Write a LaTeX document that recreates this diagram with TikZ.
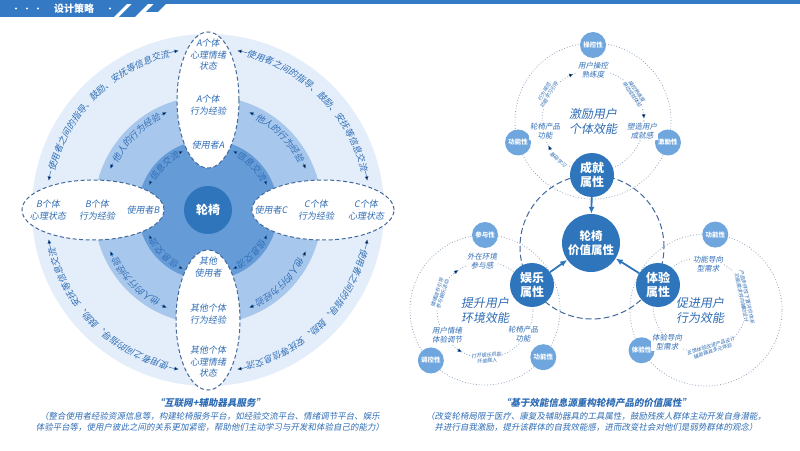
\documentclass[tikz,border=0pt]{standalone}
\usepackage{fontspec}
\usetikzlibrary{arrows.meta,shapes.geometric,decorations.text}
\newfontfamily\cjk{Noto Sans CJK SC}[FakeSlant=0.18]
\newfontfamily\cjkup{Noto Sans CJK SC}
\newcommand\fsz[1]{\fontsize{#1}{#1}\selectfont}
\definecolor{mainblue}{HTML}{2E75BC}
\definecolor{darkfill}{HTML}{659CD8}
\definecolor{midfill}{HTML}{A8C7EC}
\definecolor{lightfill}{HTML}{E4EEFA}
\definecolor{txtblue}{HTML}{2F6DB5}
\definecolor{edgeblue}{HTML}{42699C}
\definecolor{satblue}{HTML}{6FA6DE}
\definecolor{dotgray}{HTML}{8EA4C0}
\definecolor{barblue}{HTML}{3479C4}
\tikzset{
  petal/.style    = {ellipse, draw=edgeblue, dash pattern=on 4pt off 2.5pt, line width=1pt,
                     fill=white, inner sep=0pt},
  petaltext/.style= {text=txtblue, align=center, inner sep=0pt,
                     font=\cjk\fontsize{9}{11.5}\selectfont},
  hub/.style      = {circle, fill=mainblue, text=white, align=center, inner sep=0pt,
                     font=\cjkup\bfseries\fontsize{12}{14}\selectfont},
  sat/.style      = {circle, fill=satblue, text=white, minimum size=26pt, inner sep=0pt,
                     font=\cjkup\bfseries\fontsize{6.5}{7}\selectfont},
  ringlbl/.style  = {fill=white, inner sep=1pt, text=txtblue, align=center,
                     font=\cjk\fontsize{7.5}{9}\selectfont},
  tinylbl/.style  = {fill=white, inner sep=0.5pt, text=txtblue, align=center,
                     font=\cjk\fontsize{5}{5.5}\selectfont},
  core/.style     = {text=txtblue, align=center, font=\cjk\fontsize{12}{15}\selectfont},
  link/.style     = {-{Latex[length=7pt,width=6pt]}, line width=1.8pt, draw=mainblue},
  dotring/.style  = {draw=dotgray, dotted, line width=0.8pt},
  bigdash/.style  = {draw=edgeblue, dash pattern=on 6pt off 3pt, line width=1pt},
  flowtip/.style  = {-{Triangle[length=4pt,width=3.5pt]}, draw=txtblue, line width=0.5pt},
  captitle/.style = {text=txtblue, font=\cjk\bfseries\fontsize{9.5}{11}\selectfont},
  capbody/.style  = {text=txtblue, align=center, font=\cjk\fontsize{8.5}{11}\selectfont},
}

\begin{document}
\begin{tikzpicture}[x=1pt,y=1pt]
  \useasboundingbox (0,0) rectangle (800,450);
  \fill[white] (0,0) rectangle (800,450);

  % header
  \fill[barblue] (0,446) rectangle (800,450);
  \fill[barblue] (0,433) -- (114,433) -- (131,450) -- (0,450) -- cycle;
  \fill[barblue] (119,433) -- (135,433) -- (152,450) -- (136,450) -- cycle;
  \fill[barblue] (146,438) -- (158,438) -- (170,450) -- (158,450) -- cycle;
  \node[text=white, font=\cjkup\bfseries\fontsize{10}{10}\selectfont] (hdr) at (74,441.5) {设计策略};
  \foreach \x in {16,27,38,110} \fill[white] (\x,441.5) circle[radius=1.2];

  % left: service platform
  \coordinate (C) at (208,240);
  \fill[lightfill] (C) circle[radius=176];
  \fill[midfill] (C) circle[radius=114];
  \fill[darkfill] (C) circle[radius=70];

  \node[petal, minimum width=62pt, minimum height=136pt] (petA) at (208,350) {};
  \node[petal, minimum width=64pt, minimum height=140pt] (petO) at (208,130) {};
  \node[petal, minimum width=142pt, minimum height=60pt] (petB) at (93,240) {};
  \node[petal, minimum width=142pt, minimum height=60pt] (petC) at (323,240) {};

  \node[petaltext] (a1) at (208,395) {A个体\\心理情绪\\状态};
  \node[petaltext] (a2) at (208,345) {A个体\\行为经验};
  \node[petaltext] (a3) at (208,305) {使用者A};
  \node[petaltext] (o1) at (208,183) {其他\\使用者};
  \node[petaltext] (o2) at (208,136) {其他个体\\行为经验};
  \node[petaltext] (o3) at (208,88)  {其他个体\\心理情绪\\状态};
  \node[petaltext] (b1) at (48,240)  {B个体\\心理状态};
  \node[petaltext] (b2) at (97,240)  {B个体\\行为经验};
  \node[petaltext] (b3) at (143,240) {使用者B};
  \node[petaltext] (c3) at (271,240) {使用者C};
  \node[petaltext] (c2) at (316,240) {C个体\\行为经验};
  \node[petaltext] (c1) at (366,240) {C个体\\心理状态};

  \foreach \q in {135,45,-45,-135}{
    \pgfmathsetmacro\sa{\q+35}\pgfmathsetmacro\sb{\q-35}
    \path[decorate, decoration={text along path, text align=center, text color=txtblue,
          text={|\cjk\fsz{9}|使用者之间的指导、鼓励、安抚等信息交流}}]
      ([shift={(\sa:158)}]C) arc (\sa:\sb:158);
    \pgfmathsetmacro\sa{\q+22}\pgfmathsetmacro\sb{\q-22}
    \path[decorate, decoration={text along path, text align=center, text color=txtblue,
          text={|\cjk\fsz{9}|他人的行为经验}}]
      ([shift={(\sa:102)}]C) arc (\sa:\sb:102);
    \path[decorate, decoration={text along path, text align=center, text color=txtblue,
          text={|\cjk\fsz{9}|信息交流}}]
      ([shift={(\sa:60)}]C) arc (\sa:\sb:60);
    \pgfmathsetmacro\ta{\q+31}\pgfmathsetmacro\tb{\q+34.5}
    \draw[flowtip] ([shift={(\ta:162)}]C) arc (\ta:\tb:162);
    \pgfmathsetmacro\ta{\q-31}\pgfmathsetmacro\tb{\q-34.5}
    \draw[flowtip] ([shift={(\ta:162)}]C) arc (\ta:\tb:162);
    \pgfmathsetmacro\ta{\q+19}\pgfmathsetmacro\tb{\q+22}
    \draw[flowtip] ([shift={(\ta:106)}]C) arc (\ta:\tb:106);
    \pgfmathsetmacro\ta{\q-19}\pgfmathsetmacro\tb{\q-22}
    \draw[flowtip] ([shift={(\ta:106)}]C) arc (\ta:\tb:106);
    \pgfmathsetmacro\ta{\q+18}\pgfmathsetmacro\tb{\q+22}
    \draw[flowtip] ([shift={(\ta:64)}]C) arc (\ta:\tb:64);
    \pgfmathsetmacro\ta{\q-18}\pgfmathsetmacro\tb{\q-22}
    \draw[flowtip] ([shift={(\ta:64)}]C) arc (\ta:\tb:64);
  }
  \node[hub, minimum size=48pt] (chair) at (C) {轮椅};

  % right: value attributes
  \coordinate (T)  at (593,329);
  \coordinate (L)  at (485,140);
  \coordinate (Ro) at (706,140);
  \coordinate (Ri) at (700,145);
  \coordinate (D)  at (592,203);
  \draw[dotring] (T) circle[radius=78];
  \draw[dotring] (T) circle[radius=51];
  \draw[dotring] (L) circle[radius=75];
  \draw[dotring] (L) circle[radius=48];
  \draw[dotring] (Ro) circle[radius=76];
  \draw[dotring] (Ri) circle[radius=47];
  \draw[bigdash] (D) circle[radius=72];

  \node[sat] (ctl)  at ([shift={(90:76)}]T)   {操控性};
  \node[sat] (fnT)  at ([shift={(196:78)}]T)  {功能性};
  \node[sat] (mot)  at ([shift={(344:78)}]T)  {激励性};
  \node[sat] (par)  at ([shift={(90:75)}]L)   {参与性};
  \node[sat] (reg)  at ([shift={(223:74)}]L)  {调控性};
  \node[sat] (fnL)  at ([shift={(321:75)}]L)  {功能性};
  \node[sat] (fnR)  at ([shift={(83:76)}]Ro)  {功能性};
  \node[sat] (expS) at ([shift={(212:76)}]Ro) {体验性};

  \node[core] (coreT) at (T) {激励用户\\个体效能};
  \node[ringlbl] (skill) at ([shift={(90:51)}]T) {用户操控\\熟练度};
  \node[ringlbl] (funcT) at (545,319) {轮椅产品\\功能};
  \node[ringlbl] (pride) at (642,319) {塑造用户\\成就感};
  \node[tinylbl, rotate=-42] (tT1) at ([shift={(228:52)}]T) {基础学习};
  \node[tinylbl, rotate=59]  (tT2) at ([shift={(149:54)}]T) {行为规范\\功能学习引导};
  \node[tinylbl, rotate=-56] (tT3) at ([shift={(34:50)}]T)  {操控熟练度\\带动成就体验};
  \draw[flowtip] ([shift={(118:51)}]T) arc (118:113:51);
  \draw[flowtip] ([shift={(8:51)}]T) arc (8:3:51);
  \draw[flowtip] ([shift={(215:51)}]T) arc (215:209:51);

  \node[core] (coreL) at (L) {提升用户\\环境效能};
  \node[ringlbl] (envL)  at (482,189) {外在环境\\参与感};
  \node[ringlbl] (moodL) at (447,115) {用户情绪\\体验调节};
  \node[ringlbl] (funcL) at (523,116) {轮椅产品\\功能};
  \node[tinylbl, rotate=72] (tL1) at ([shift={(160:48)}]L) {情绪调节引导\\参与娱乐活动};
  \node[tinylbl, rotate=5]  (tL2) at ([shift={(272:48)}]L) {打开娱乐机能\\环境融入};
  \draw[flowtip] ([shift={(130:48)}]L) arc (130:124:48);
  \draw[flowtip] ([shift={(235:48)}]L) arc (235:241:48);

  \node[core] (coreR) at (700,140) {促进用户\\行为效能};
  \node[ringlbl] (fnNeed) at (708,186) {功能导向\\型需求};
  \node[ringlbl] (exNeed) at (667,108) {体验导向\\型需求};
  \node[tinylbl, rotate=-78] (tR1) at ([shift={(10:45)}]Ri)  {产品多样性下置评价体系\\功能需求导向辅助设计};
  \node[tinylbl, rotate=18]  (tR2) at ([shift={(285:45)}]Ri) {反馈体验改进产品设计\\辅助器具多元体验};

  \node[hub, minimum size=44pt] (ach) at (592,275) {成就\\属性};
  \node[hub, minimum size=44pt] (ent) at (532,165) {娱乐\\属性};
  \node[hub, minimum size=44pt] (exq) at (658,165) {体验\\属性};
  \node[hub, minimum size=58pt, font=\cjkup\bfseries\fontsize{11.5}{14}\selectfont] (val) at (591,207) {轮椅\\价值属性};
  \draw[link] (ach) -- (val);
  \draw[link] (ent) -- (val);
  \draw[link] (exq) -- (val);

  % captions
  \node[captitle] (capL) at (210,47) {“互联网+辅助器具服务”};
  \node[capbody] (bodyL) at (210,28.5) {（整合使用者经验资源信息等，构建轮椅服务平台，如经验交流平台、情绪调节平台、娱乐\\体验平台等，使用户彼此之间的关系更加紧密，帮助他们主动学习与开发和体验自己的能力）};
  \node[captitle] (capR) at (596,47) {“基于效能信息源重构轮椅产品的价值属性”};
  \node[capbody] (bodyR) at (596,28.5) {（改变轮椅局限于医疗、康复及辅助器具的工具属性，鼓励残疾人群体主动开发自身潜能，\\并进行自我激励，提升该群体的自我效能感，进而改变社会对他们是弱势群体的观念）};
\end{tikzpicture}
\end{document}
